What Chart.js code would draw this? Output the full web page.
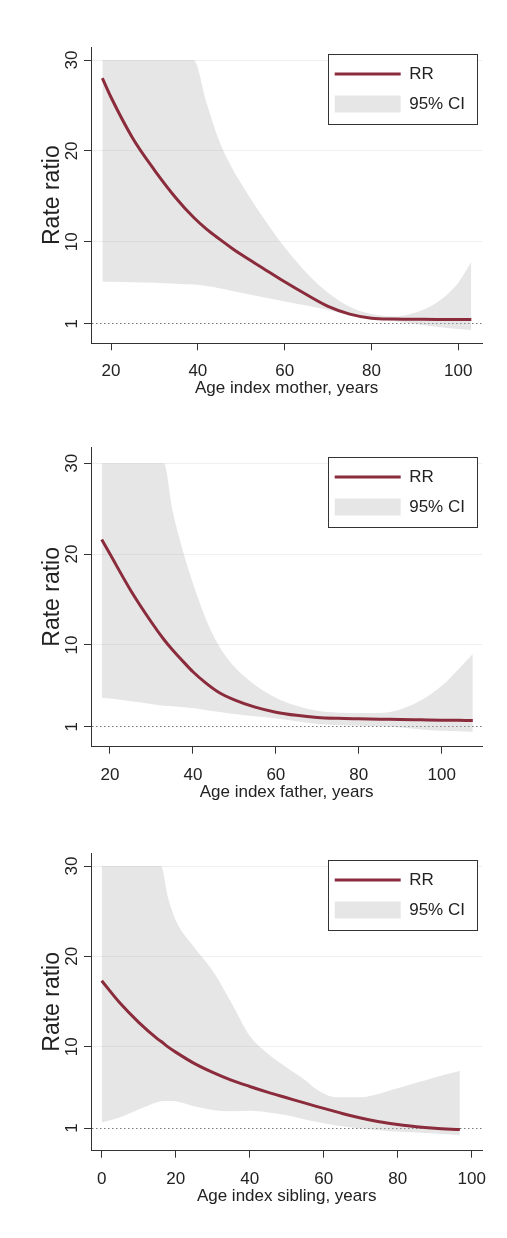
<!DOCTYPE html>
<html>
<head>
<meta charset="utf-8">
<script src="https://cdn.jsdelivr.net/npm/chart.js@4.4.1/dist/chart.umd.min.js"></script>
<style>
  html, body { margin: 0; padding: 0; background: #fff; }
  body { width: 507px; height: 1238px; position: relative; overflow: hidden; }
  .panel { position: absolute; left: 0; width: 507px; height: 405px; }
</style>
</head>
<body>
<div class="panel" style="top:0px"><canvas id="mother" width="507" height="405"></canvas></div>
<div class="panel" style="top:400px"><canvas id="father" width="507" height="405"></canvas></div>
<div class="panel" style="top:805px"><canvas id="sibling" width="507" height="405"></canvas></div>
<script>
const yTicks = [1, 10, 20, 30];

// index mother
const motherAge = [18, 20, 25, 30, 35, 39, 42, 45, 48, 50, 55, 60, 65, 70, 75, 80, 85, 90, 95, 100, 103];
const motherRR  = [28.0, 25.9, 21.4, 17.9, 14.8, 12.7, 11.4, 10.3, 9.25, 8.6, 7.1, 5.6, 4.2, 2.9, 2.05, 1.6, 1.5, 1.48, 1.46, 1.45, 1.45];
const motherLo  = [5.64, 5.6, 5.55, 5.5, 5.4, 5.3, 5.15, 4.9, 4.6, 4.4, 3.9, 3.45, 3.0, 2.5, 1.9, 1.55, 1.3, 0.95, 0.65, 0.4, 0.3];
const motherHi  = [30, 30, 30, 30, 30, 30, 25.3, 21.0, 18.0, 16.4, 12.7, 9.4, 6.6, 4.4, 2.85, 2.05, 1.8, 2.2, 3.3, 5.5, 7.8];
const motherTicks = [20, 40, 60, 80, 100];

// index father
const fatherAge = [18, 20, 25, 30, 33, 35, 38, 40, 43, 46, 50, 55, 60, 65, 70, 75, 80, 85, 90, 95, 100, 104, 107.5];
const fatherRR  = [21.6, 20.0, 16.0, 12.5, 10.6, 9.5, 8.0, 7.05, 5.85, 4.85, 3.95, 3.15, 2.6, 2.25, 2.02, 1.92, 1.87, 1.83, 1.8, 1.76, 1.72, 1.7, 1.68];
const fatherLo  = [4.2, 4.1, 3.8, 3.5, 3.3, 3.25, 3.15, 3.05, 2.85, 2.65, 2.4, 2.15, 1.9, 1.6, 1.3, 1.15, 1.1, 1.05, 0.9, 0.7, 0.55, 0.5, 0.45];
const fatherHi  = [30, 30, 30, 30, 30, 25.0, 19.7, 16.8, 13.0, 10.1, 7.6, 5.6, 4.2, 3.3, 2.75, 2.55, 2.5, 2.5, 2.9, 3.9, 5.5, 7.3, 9.0];
const fatherTicks = [20, 40, 60, 80, 100];

// index sibling
const siblingAge = [0, 5, 10, 15, 16, 18, 20, 25, 30, 35, 40, 45, 50, 55, 58, 62, 65, 70, 75, 80, 85, 90, 96.8];
const siblingRR  = [17.3, 14.8, 12.7, 10.9, 10.6, 9.95, 9.4, 8.15, 7.15, 6.3, 5.6, 4.95, 4.35, 3.75, 3.4, 2.95, 2.6, 2.1, 1.7, 1.4, 1.15, 0.98, 0.83];
const siblingLo  = [1.6, 2.2, 3.05, 3.85, 3.95, 4.0, 3.95, 3.4, 3.0, 2.85, 2.9, 2.72, 2.4, 1.95, 1.7, 1.4, 1.2, 0.95, 0.75, 0.62, 0.5, 0.38, 0.2];
const siblingHi  = [30, 30, 30, 30, 30, 26.4, 24.0, 21.0, 18.4, 14.9, 11.2, 9.2, 7.7, 6.3, 5.3, 4.5, 4.4, 4.4, 4.8, 5.4, 6.0, 6.6, 7.3];
const siblingTicks = [0, 20, 40, 60, 80, 100];

Chart.defaults.font.family = "'Liberation Sans', Arial, Helvetica, sans-serif";
Chart.defaults.font.size = 17;
Chart.defaults.color = "#222";

const lineColor = "#8b2c3c";
const bandColor = "rgba(172,172,172,0.3)";
const axisColor = "#333";

// legend sits inside the plot, top right, in a framed white box
const LEG_W = 149, LEG_H = 70;
const legendBox = {
  id: "legendBox",
  afterLayout(chart, args, opts) {
    const lg = chart.legend, a = chart.chartArea;
    const left = a.right - 5.6 - LEG_W, top = a.top + opts.offset;
    lg.left = left - 6;
    lg.top = top - 1.5;
    lg.right = left + LEG_W;
    lg.bottom = top + LEG_H + 12;
    lg.width = lg.right - lg.left;
    lg.height = lg.bottom - lg.top;
  },
  afterDraw(chart, args, opts) {
    const ctx = chart.ctx, a = chart.chartArea;
    const left = Math.round(a.right - 5.6 - LEG_W), top = Math.round(a.top + opts.offset);
    ctx.save();
    ctx.fillStyle = "#fff";
    ctx.fillRect(left, top, LEG_W, LEG_H);
    ctx.strokeStyle = axisColor;
    ctx.lineWidth = 1;
    ctx.strokeRect(left + 0.5, top + 0.5, LEG_W, LEG_H);
    ctx.restore();
    chart.legend.draw();
  }
};

function pts(xs, ys) {
  return xs.map((x, i) => ({ x: x, y: ys[i] }));
}

function makeChart(id, title, ages, rr, lo, hi, xTicks, view) {
  new Chart(document.getElementById(id), {
    type: "line",
    data: {
      datasets: [
        { label: "RR", data: pts(ages, rr), borderColor: lineColor, backgroundColor: lineColor,
          borderWidth: 3, pointRadius: 0, pointStyle: "line", fill: false, cubicInterpolationMode: "monotone" },
        { label: "", data: pts(ages, lo), borderColor: "transparent", borderWidth: 0,
          pointRadius: 0, fill: false, cubicInterpolationMode: "monotone" },
        { label: "95% CI", data: pts(ages, hi), borderColor: "transparent", backgroundColor: bandColor,
          borderWidth: 0, pointRadius: 0, pointStyle: "rect", fill: "-1", cubicInterpolationMode: "monotone" }
      ]
    },
    options: {
      responsive: false,
      animation: false,
      events: [],
      layout: { padding: { top: view.plotTop, left: 0, right: 24.7, bottom: 405 - view.plotBottom - 54 } },
      scales: {
        x: {
          type: "linear",
          min: view.xMin,
          max: view.xMax,
          afterBuildTicks: s => { s.ticks = xTicks.map(v => ({ value: v })); },
          afterFit: s => { s.height = 54; },
          grid: { drawOnChartArea: false, tickLength: 7, tickColor: axisColor },
          border: { color: axisColor },
          ticks: { padding: 11, maxRotation: 0, autoSkip: false },
          title: { display: true, text: title, font: { size: 17, lineHeight: 1 }, padding: 0 }
        },
        y: {
          min: view.yMin,
          max: view.yMax,
          afterBuildTicks: s => { s.ticks = yTicks.map(v => ({ value: v })); },
          afterFit: s => { s.width = 91; },
          grid: {
            color: c => (c.tick && c.tick.value === 1) ? "#777" : "#efefef",
            tickLength: 7,
            tickColor: axisColor
          },
          border: { color: axisColor, dash: c => (c.tick && c.tick.value === 1) ? [1.5, 2.5] : [] },
          ticks: { minRotation: 90, maxRotation: 90, crossAlign: "center", padding: 2.5, autoSkip: false },
          title: { display: true, text: "Rate ratio", font: { size: 23, lineHeight: 1 }, padding: { top: 41, bottom: 0 } }
        }
      },
      plugins: {
        tooltip: { enabled: false },
        legend: {
          position: "chartArea",
          align: "start",
          labels: {
            usePointStyle: true,
            pointStyleWidth: 66,
            boxHeight: 17,
            padding: 13,
            color: "#222",
            font: { size: 17 },
            filter: item => item.text !== ""
          }
        },
        legendBox: { offset: view.legendOffset }
      }
    },
    plugins: [legendBox]
  });
}

makeChart("mother", "Age index mother, years", motherAge, motherRR, motherLo, motherHi, motherTicks,
  { xMin: 15.39, xMax: 105.53, yMin: -1.16, yMax: 31.43, plotTop: 47, plotBottom: 343.3, legendOffset: 7 });
makeChart("father", "Age index father, years", fatherAge, fatherRR, fatherLo, fatherHi, fatherTicks,
  { xMin: 15.42, xMax: 109.79, yMin: -1.2, yMax: 31.79, plotTop: 47, plotBottom: 346.7, legendOffset: 10 });
makeChart("sibling", "Age index sibling, years", siblingAge, siblingRR, siblingLo, siblingHi, siblingTicks,
  { xMin: -2.89, xMax: 102.86, yMin: -1.51, yMax: 31.44, plotTop: 48, plotBottom: 345.7, legendOffset: 7 });
</script>
</body>
</html>
